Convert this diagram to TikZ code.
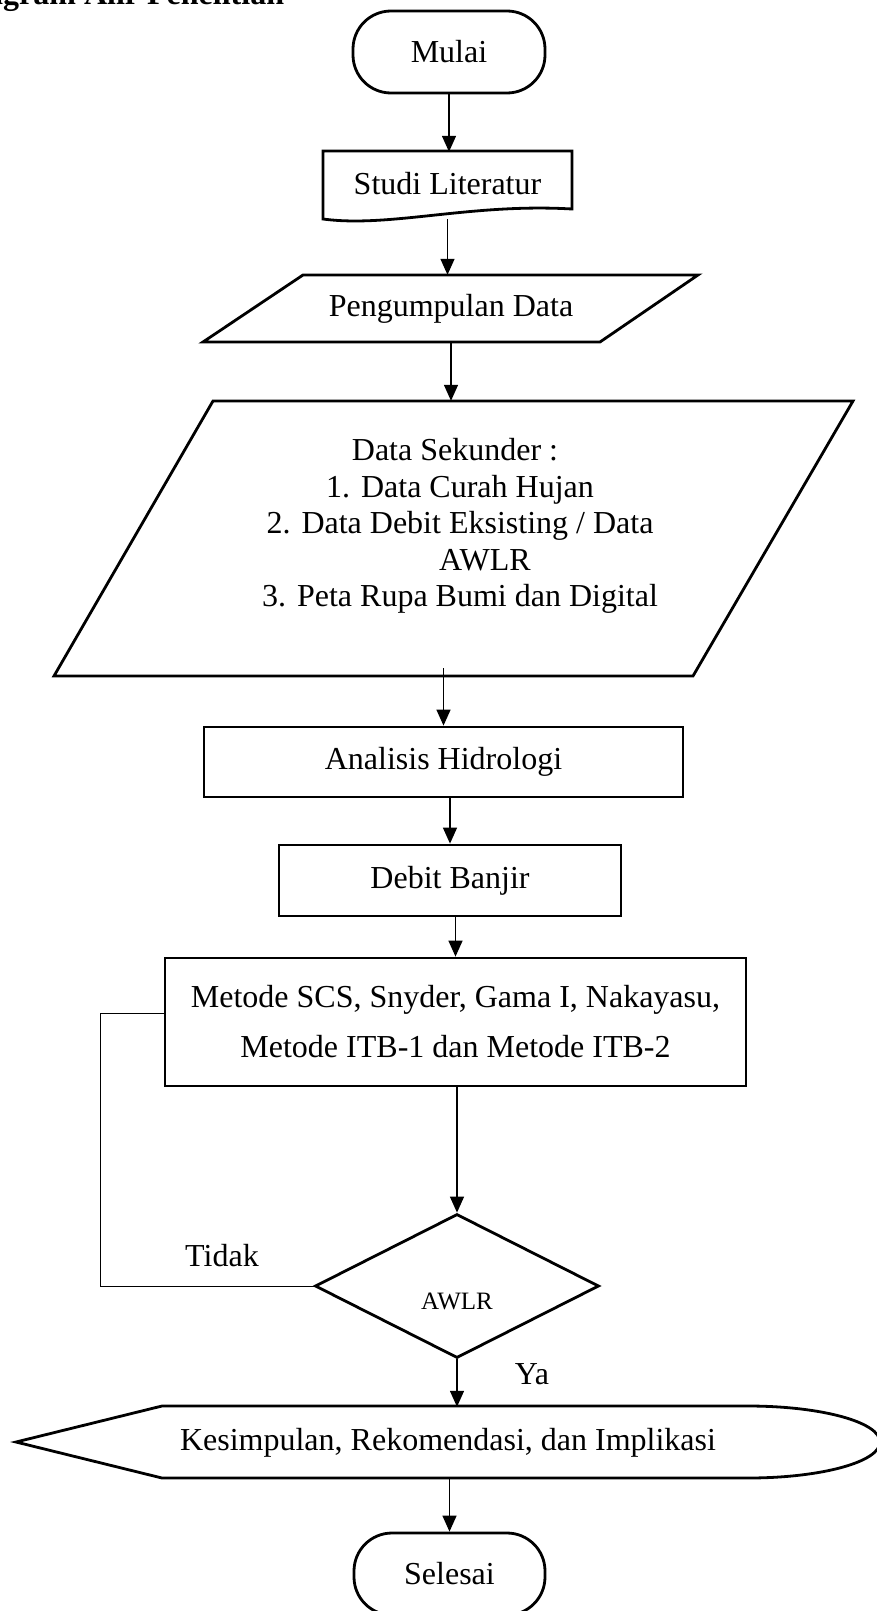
\documentclass[tikz,border=0pt]{standalone}
\usepackage{fontspec}
\setmainfont{Liberation Serif}
\usetikzlibrary{shapes.geometric,arrows.meta}
\begin{document}
\begin{tikzpicture}[x=1pt,y=-1pt,
  outline/.style={line width=2.8pt, line join=miter},
  conn/.style={line width=1.4pt,-{Triangle[length=16pt,width=14pt]}},
  plainline/.style={line width=1pt},
  txt/.style={font=\fontsize{32}{36}\selectfont},
  stadium/.style={txt, draw, outline, rectangle, rounded corners=38pt, minimum width=192pt, minimum height=82pt},
  boxed/.style={txt, draw, outline, rectangle, inner sep=0pt},
  ghost/.style={txt, rectangle, inner sep=0pt}]
\useasboundingbox (0,0) rectangle (877,1611);
\clip (0,0) rectangle (877,1611);

% title (partly outside the page, as in the reference)
\node[anchor=base west, inner sep=0pt, font=\bfseries\fontsize{32}{36}\selectfont] (title) at (-45,5) {Diagram Alir Penelitian};

% Mulai
\node[stadium] (mulai) at (449,52) {Mulai};

% Studi Literatur (document shape)
\node[ghost, minimum width=249pt, minimum height=63pt] (studi) at (447.5,183.5) {Studi Literatur};
\draw[outline] (323,219) -- (323,151) -- (572,151) -- (572,209) .. controls (470,203) and (390,228) .. (323,219) -- cycle;

% Pengumpulan Data (parallelogram)
\node[ghost, minimum width=395pt, minimum height=67pt] (peng) at (451,308.5) {Pengumpulan Data};
\draw[outline] (303,275) -- (698,275) -- (600,342) -- (203,342) -- cycle;

% Data Sekunder (parallelogram)
\node[ghost, minimum width=640pt, minimum height=275pt] (datasek) at (453,538.5) {};
\draw[outline] (213,401) -- (853,401) -- (693,676) -- (54,676) -- cycle;
\node[inner sep=0pt, align=center, font=\fontsize{32}{36.5}\selectfont] (dstext) at (460,526)
  {\hspace*{-10pt}Data Sekunder :\\
   1.\hspace{11pt}Data Curah Hujan\\
   2.\hspace{11pt}Data Debit Eksisting / Data\\
   \hspace*{50pt}AWLR\\
   3.\hspace{11pt}Peta Rupa Bumi dan Digital};

% Analisis Hidrologi
\node[boxed, minimum width=479pt, minimum height=70pt] (analisis) at (443.5,762) {Analisis Hidrologi};

% Debit Banjir
\node[boxed, minimum width=342pt, minimum height=71pt] (debit) at (450,880.5) {Debit Banjir};

% Metode
\node[boxed, align=center, font=\fontsize{32}{50}\selectfont, minimum width=581pt, minimum height=128pt] (metode) at (455.5,1022)
  {Metode SCS, Snyder, Gama I, Nakayasu,\\ Metode ITB-1 dan Metode ITB-2};

% AWLR decision
\node[draw, outline, diamond, inner sep=0pt, minimum width=284pt, minimum height=144pt] (awlr) at (457,1286) {};
\node[inner sep=0pt, font=\fontsize{25}{30}\selectfont] (awlrtxt) at (457,1301) {AWLR};

% labels
\node[txt, inner sep=0pt] (tidak) at (222,1256) {Tidak};
\node[txt, inner sep=0pt] (ya) at (532,1374) {Ya};

% Kesimpulan (display shape)
\node[ghost, minimum width=864pt, minimum height=72pt] (kes) at (448,1443) {Kesimpulan, Rekomendasi, dan Implikasi};
\draw[outline] (16,1442) -- (162,1406) -- (748,1406) .. controls (821,1406) and (880,1422) .. (880,1442)
  .. controls (880,1462) and (821,1478) .. (748,1478) -- (162,1478) -- cycle;

% Selesai
\node[stadium, minimum width=191pt] (selesai) at (449.5,1574) {Selesai};

% feedback corner
\coordinate (fbk) at (100,1286);

% connectors
\draw[conn] (mulai.south) -- (studi.north -| mulai.south);
\draw[conn] ([yshift=-4pt]studi.south) -- (studi.south |- peng.north);
\draw[conn] (peng.south) -- (peng.south |- datasek.north);
\draw[conn] ([yshift=8pt]datasek.south -| analisis.north) -- (analisis.north);
\draw[conn] (analisis.south -| debit.north) -- (debit.north);
\draw[conn] (debit.south -| metode.north) -- (metode.north);
\draw[conn] (metode.south -| awlr.north) -- (awlr.north);
\draw[plainline] ([yshift=9pt]metode.west) -| (fbk) -- (awlr.west);
\draw[conn] (awlr.south) -- (awlr.south |- kes.north);
\draw[conn] (kes.south -| selesai.north) -- (selesai.north);
\end{tikzpicture}
\end{document}
